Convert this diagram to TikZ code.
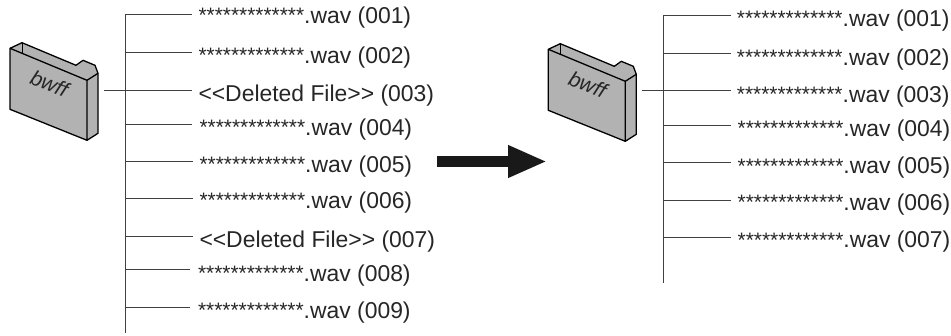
\documentclass[tikz,border=0pt]{standalone}
\usepackage{fontspec}
\setmainfont{Liberation Sans}
\usetikzlibrary{positioning,arrows.meta}
\newcommand{\starrun}{{\fontsize{20.9}{24}\selectfont\raisebox{.5pt}{*************}}}
\tikzset{
	filename/.style={anchor=base west,inner sep=0pt,text=black!85,font=\fontsize{22.9}{24}\selectfont},
	branch/.style={-,line width=1pt,draw=black!75},
	trunk/.style={-,line width=1.2pt,draw=black!75},
	folderline/.style={line width=1.3pt,draw=black,line join=round},
	folder/.pic={
		\path[fill=black!30] (0,0) -- (12,-5.6) -- (66,17) -- (73,12) -- (85,17) -- (88,25) -- (88,85) -- (77,92) -- (0,61) -- cycle;
		\draw[folderline] (0,0) -- (0,61) -- (77,92) -- (88,85) -- (88,25) -- (85,17) -- (73,12) -- (66,17) -- (12,-5.6) -- (0,0) -- (77,32) -- (77,92);
		\draw[folderline] (77,32) -- (88,25);
		\draw[folderline,line width=.8pt] (12,-5.6) -- (12,6);
		\node[rotate=-22,font=\fontsize{21}{24}\selectfont\itshape,text=black!85] (-label) at (39.5,35.5) {bwff};
	}
}
\begin{document}
\begin{tikzpicture}[x=1pt,y=-1pt]
	\useasboundingbox (0,0) rectangle (951,335);

	\pic (f1) at (10,48.3) {folder};
	\pic (f2) at (548.3,49.3) {folder};

	% left listing
	\coordinate (t1a) at (125.7,14);
	\coordinate (t1b) at (125.7,333);
	\draw[trunk] (t1a) -- (t1b);
	\foreach \nam/\ypos/\base/\xpos/\xend/\txt in {
		a/14/23.3/198.3/191.7/\starrun.wav (001),
		b/52.7/63/198.3/191.7/\starrun.wav (002),
		c/90/101/198.3/191.7/<{}<Deleted File>{}> (003),
		d/124.3/135/199.3/191.7/\starrun.wav (004),
		e/161.7/172/199.3/192.7/\starrun.wav (005),
		f/198.3/208/199.3/192.7/\starrun.wav (006),
		g/236/247/199.3/192.7/<{}<Deleted File>{}> (007),
		h/269.3/281/197.8/190/\starrun.wav (008),
		i/307/318/197.8/190/\starrun.wav (009)}{
		\node[filename] (\nam) at (\xpos,\base) {\txt};
		\coordinate (s\nam) at (125.7,\ypos);
		\coordinate (e\nam) at (\xend,\ypos);
		\draw[branch] (s\nam) -- (e\nam);
	}
	\coordinate (fo1) at (104,90);
	\draw[branch] (fo1) -- (sc);

	% right listing
	\coordinate (t2a) at (663.7,15);
	\coordinate (t2b) at (663.7,282.7);
	\draw[trunk] (t2a) -- (t2b);
	\foreach \nam/\ypos/\base/\xpos in {
		1/15/26/736.7,
		2/53.3/65/736.7,
		3/90.7/102/736.7,
		4/125.7/136/737.5,
		5/162.7/173.5/737.5,
		6/200/210/737.5,
		7/237/247.5/737.5}{
		\node[filename] (r\nam) at (\xpos,\base) {\starrun.wav (00\nam)};
		\coordinate (rs\nam) at (663.7,\ypos);
		\coordinate (re\nam) at (730.5,\ypos);
		\draw[branch] (rs\nam) -- (re\nam);
	}
	\coordinate (fo2) at (642,90.7);
	\draw[branch] (fo2) -- (rs3);

	\coordinate (ar1) at (437,161.5);
	\coordinate (ar2) at (547,161.5);
	\draw[-{Triangle[length=39pt,width=30pt]},line width=11pt,draw=black!90,fill=black!90] (ar1) -- (ar2);
\end{tikzpicture}
\end{document}
